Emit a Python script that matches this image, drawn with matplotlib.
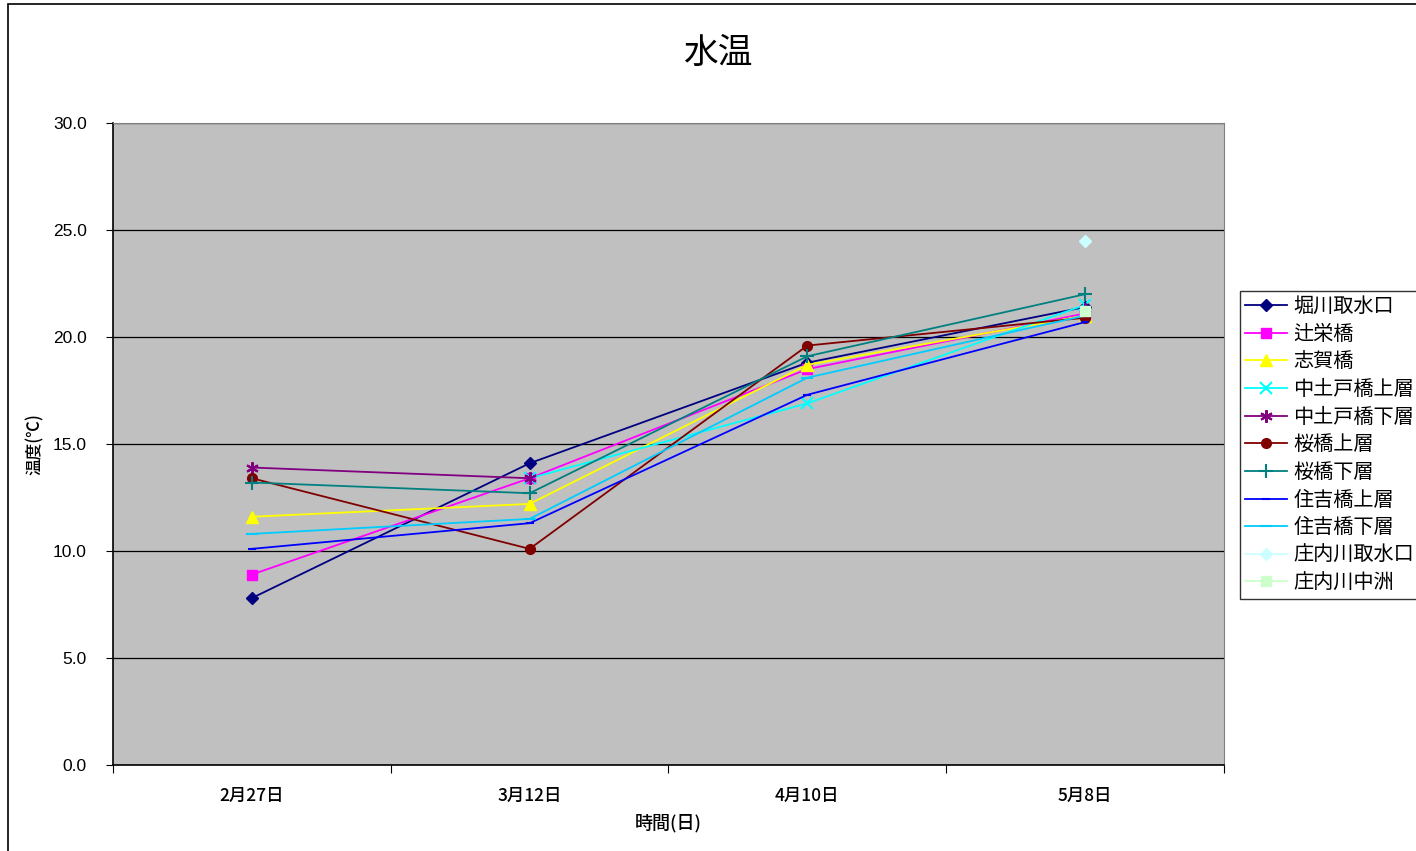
import matplotlib.pyplot as plt
import numpy as np

plt.rcParams['font.family'] = ['Noto Sans CJK JP', 'DejaVu Sans']

# 測定日と各地点の水温
dates = ['2月27日', '3月12日', '4月10日', '5月8日']
names = ['堀川取水口', '辻栄橋', '志賀橋', '中土戸橋上層', '中土戸橋下層',
         '桜橋上層', '桜橋下層', '住吉橋上層', '住吉橋下層', '庄内川取水口', '庄内川中洲']
nan = np.nan
horikawa = [7.8, 14.1, 18.8, 21.4]
tsujiei = [8.9, 13.4, 18.5, 21.1]
shiga = [11.6, 12.2, 18.7, 21.0]
nakatodo_up = [nan, 13.4, 16.9, 21.5]
nakatodo_lo = [13.9, 13.4, nan, 21.3]
sakura_up = [13.4, 10.1, 19.6, 20.9]
sakura_lo = [13.2, 12.7, 19.1, 22.0]
sumiyoshi_up = [10.1, 11.3, 17.3, 20.7]
sumiyoshi_lo = [10.8, 11.5, 18.1, 21.0]
shonai_intake = [nan, nan, nan, 24.5]
shonai_nakasu = [nan, nan, nan, 21.2]

series = [horikawa, tsujiei, shiga, nakatodo_up, nakatodo_lo, sakura_up,
          sakura_lo, sumiyoshi_up, sumiyoshi_lo, shonai_intake, shonai_nakasu]
colors = ['#000080', '#FF00FF', '#FFFF00', '#00FFFF', '#800080', '#800000',
          '#008080', '#0000FF', '#00CCFF', '#CCFFFF', '#CCFFCC']
markers = ['D', 's', '^', 'x', (6, 2, 0), 'o', '+', '_', '_', 'D', 's']
msizes = [6, 7, 8, 8, 9, 7, 10, 6, 9, 6, 7]

fig = plt.figure(figsize=(14.16, 8.51), dpi=100)
W, H = 1416, 851

# 外枠
fig.patches.append(plt.Rectangle((8 / W, -0.1), 1.2, (851 - 4) / H + 0.1,
                                 transform=fig.transFigure, fill=False,
                                 edgecolor='black', linewidth=1.2))

ax = fig.add_axes([113 / W, (H - 765) / H, (1224 - 113) / W, (765 - 123) / H])
ax.set_facecolor('#C0C0C0')

x = np.arange(len(dates))
for vals, name, c, m, ms in zip(series, names, colors, markers, msizes):
    ax.plot(x, vals, color=c, marker=m, markersize=ms, linewidth=1.3,
            markeredgewidth=1.5 if m in ('x', '+', (6, 2, 0), '_') else 1,
            label=name)

ax.set_xlim(-0.5, 3.5)
ax.set_ylim(0, 30)
ax.set_yticks(np.arange(0, 31, 5))
ax.set_yticklabels([f'{v:.1f}' for v in np.arange(0, 31, 5)], fontsize=12.5,
                   family=['Liberation Sans', 'DejaVu Sans'])
ax.yaxis.grid(True, color='black', linewidth=0.9)
ax.set_axisbelow(True)

ax.set_xticks(np.arange(-0.5, 4, 1))
ax.set_xticklabels([])
ax.set_xticks(x, minor=True)
ax.set_xticklabels(dates, minor=True, fontsize=12.5, fontweight='medium')
ax.tick_params(axis='x', which='minor', length=0, pad=16)
ax.tick_params(axis='x', which='major', length=6, direction='out')
ax.tick_params(axis='y', length=5, direction='out', pad=14)

for side in ['top', 'right']:
    ax.spines[side].set_color('#808080')
for side in ['left', 'bottom']:
    ax.spines[side].set_color('black')
    ax.spines[side].set_linewidth(1.2)

ax.set_xlabel('時間(日)', fontsize=13, labelpad=6, fontweight='medium')
ax.set_ylabel('温度(℃)', fontsize=12, labelpad=6, fontweight='medium')

fig.text(718 / W, 1 - 53 / H, '水温', fontsize=25, ha='center', va='center')

leg = fig.legend(loc='upper left', bbox_to_anchor=(1240 / W, 1 - 291 / H),
                 fontsize=14.5, frameon=True, fancybox=False, borderpad=0.25,
                 labelspacing=0.33, handlelength=2.1, handletextpad=0.3,
                 borderaxespad=0)
leg.get_frame().set_edgecolor('black')
leg.get_frame().set_linewidth(1.0)

fig.savefig('out.png', dpi=100)
